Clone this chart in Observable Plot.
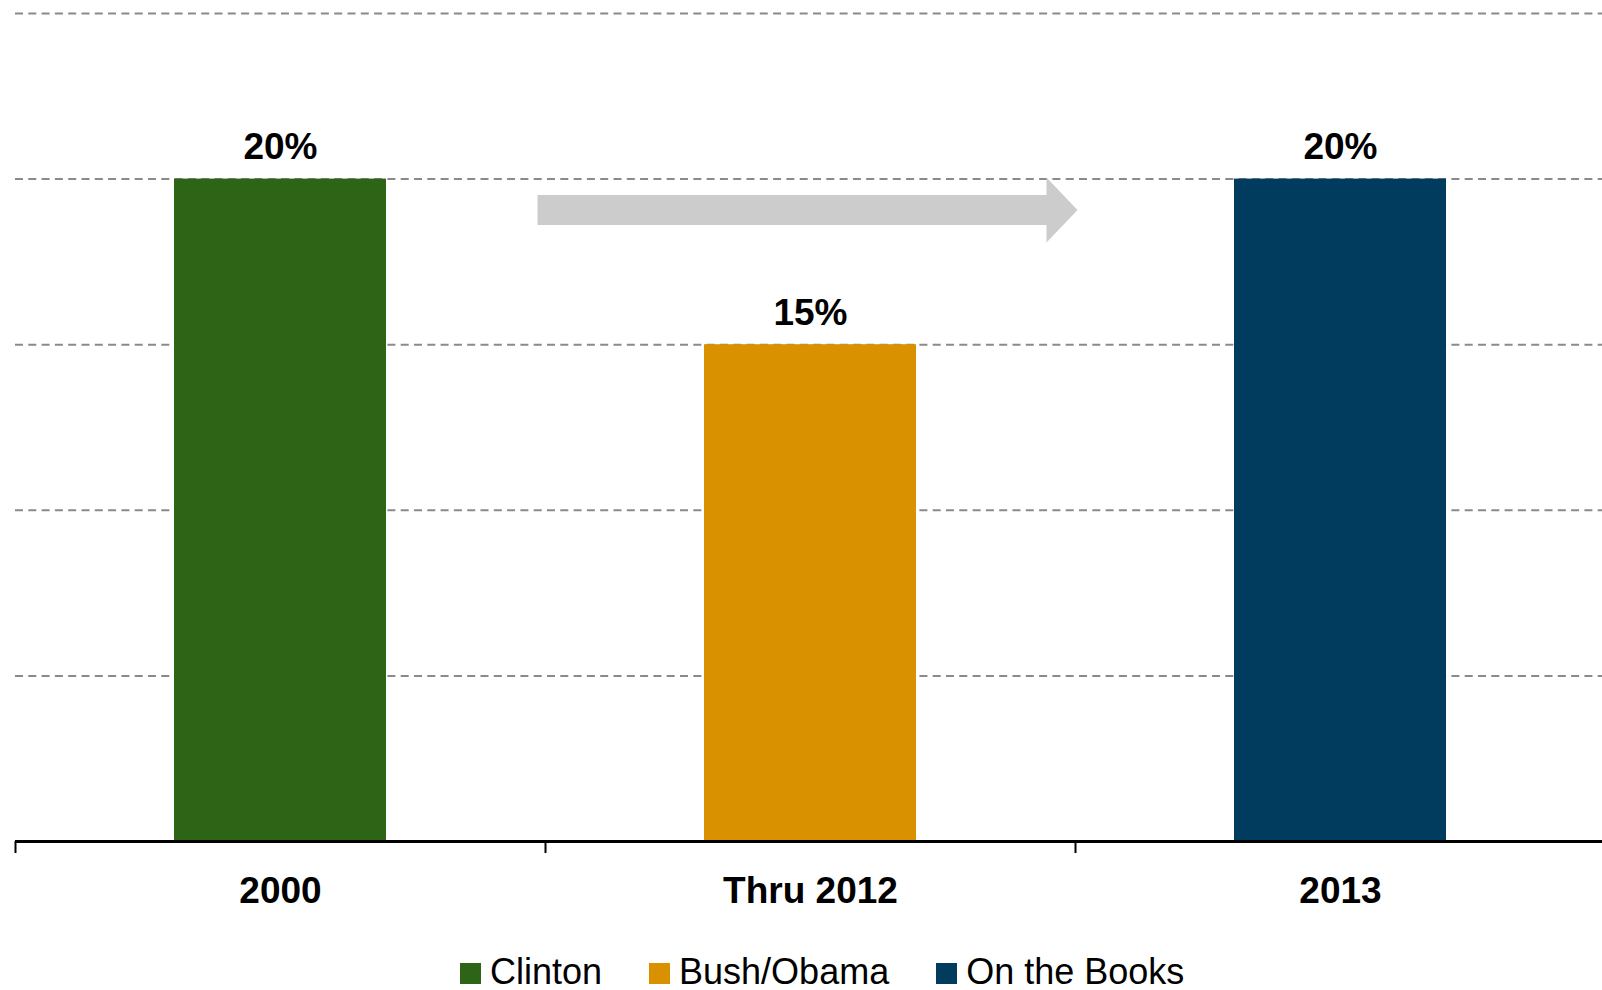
<!DOCTYPE html>
<html>
<head>
<meta charset="utf-8">
<script src="https://cdn.jsdelivr.net/npm/d3@7"></script>
<script src="https://cdn.jsdelivr.net/npm/@observablehq/plot@0.6"></script>
<style>
  html, body { margin: 0; padding: 0; background: #fff; overflow: hidden; }
  body { font-family: "Liberation Sans", Arial, sans-serif; }
  #legend { margin-top: 19px; padding-left: 460px; display: flex; font-size: 36px; line-height: 36px; color: #000; }
  .item { margin-right: 47px; white-space: nowrap; }
  .sw { display: inline-block; width: 21px; height: 21px; margin-right: 9px; vertical-align: baseline; }
</style>
</head>
<body>
<div id="chart"></div>
<div id="legend"></div>
<script>
// ---- data ----
const categories = ["2000", "Thru 2012", "2013"];
const series = ["Clinton", "Bush/Obama", "On the Books"];
const values = [20, 15, 20];
const valueLabels = ["20%", "15%", "20%"];
const gridTicks = [5, 10, 15, 20, 25];
const colors = ["#2e6415", "#d99100", "#013b5e"];

// ---- layout ----
const W = 1602, H = 935, mL = 15, mR = 0, mT = 13, mB = 94;
const xRange = [mL, mL + 1590];
const step = (xRange[1] - xRange[0]) / (3 - 0.6 + 2 * 0.3);
const arrowLevel = 19.07;

const rows = categories.map((c, i) => ({cat: c, series: series[i], value: values[i], label: valueLabels[i]}));

const arrowSymbol = {
  draw(ctx) {
    ctx.moveTo(-273, -15);
    ctx.lineTo(236, -15);
    ctx.lineTo(236, -32.5);
    ctx.lineTo(267, 0);
    ctx.lineTo(236, 32.5);
    ctx.lineTo(236, 15);
    ctx.lineTo(-273, 15);
    ctx.closePath();
  }
};

const chart = Plot.plot({
  width: W, height: H,
  marginLeft: mL, marginRight: mR, marginTop: mT, marginBottom: mB,
  style: {fontFamily: "'Liberation Sans', Arial, sans-serif", background: "#fff", overflow: "visible", color: "#000"},
  x: {domain: categories, range: xRange, paddingInner: 0.6, paddingOuter: 0.3, axis: null},
  y: {domain: [0, 25], axis: null},
  color: {domain: series, range: colors},
  marks: [
    Plot.ruleY(gridTicks, {stroke: "#8a8a8a", strokeWidth: 2, strokeDasharray: "8,5.3"}),
    Plot.barY(rows, {x: "cat", y: "value", fill: "series"}),
    Plot.ruleY([0], {stroke: "#000", strokeWidth: 3}),
    Plot.ruleX(categories, {x: d => d, y1: 0, y2: 0, insetBottom: -12, dx: -step / 2, stroke: "#000", strokeWidth: 2}),
    Plot.axisX({tickSize: 0, tickPadding: 35, fontSize: 37, fontWeight: "bold", label: null}),
    Plot.text(rows, {x: "cat", y: "value", text: "label", lineAnchor: "bottom", dy: -20, fontSize: 37, fontWeight: "bold", fill: "#000"}),
    Plot.dot([categories[1]], {x: d => d, y: () => arrowLevel, symbol: arrowSymbol, fill: "#cccccc", stroke: "none"})
  ]
});
document.getElementById("chart").appendChild(chart);

const legend = document.getElementById("legend");
series.forEach((s, i) => {
  const item = document.createElement("span");
  item.className = "item";
  const sw = document.createElement("span");
  sw.className = "sw";
  sw.style.background = colors[i];
  item.appendChild(sw);
  item.appendChild(document.createTextNode(s));
  legend.appendChild(item);
});
</script>
</body>
</html>
